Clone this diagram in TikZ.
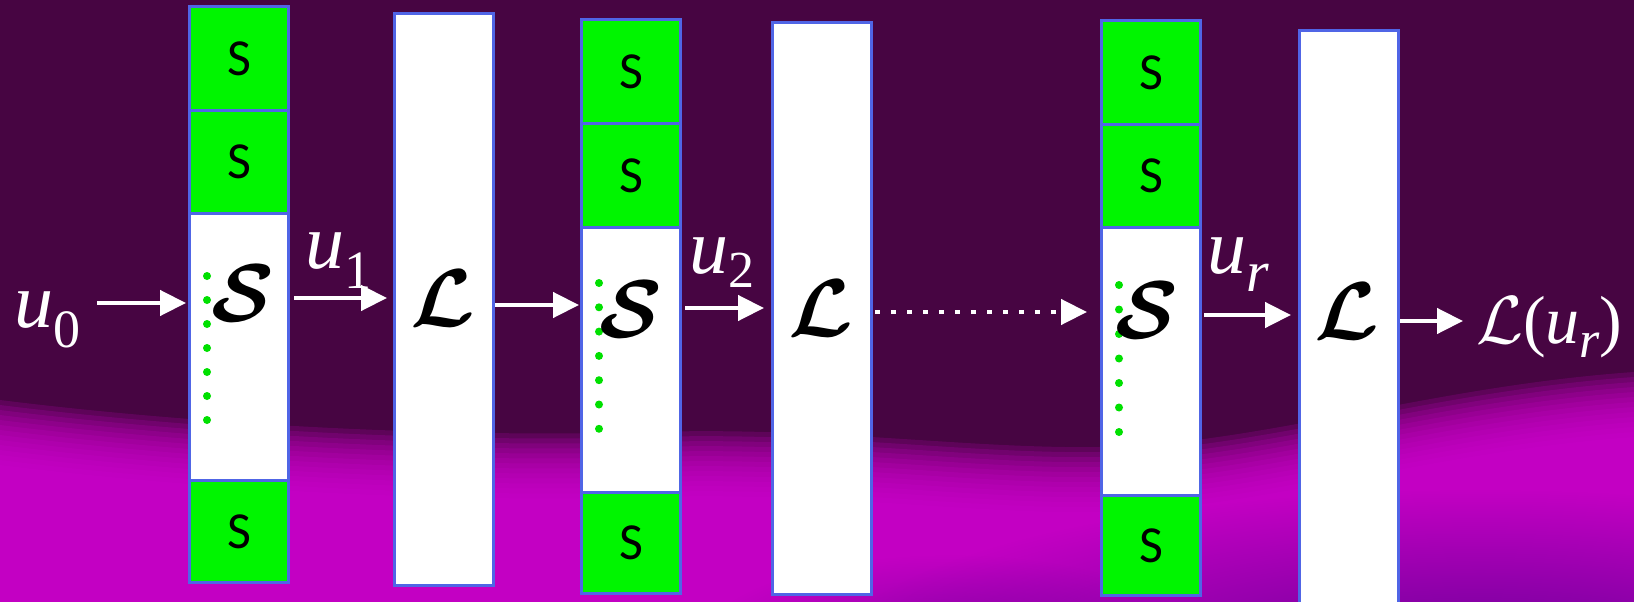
\documentclass[tikz,border=0pt]{standalone}
\usepackage{amsmath}
\usepackage{fontspec}
\DeclareFontShape{OMS}{cmsy}{m}{n}{<->cmsy10}{}
\DeclareFontShape{OMS}{cmsy}{b}{n}{<->cmbsy10}{}
\newfontfamily\lblfont{Liberation Serif}
\newfontfamily\boxfont{Carlito}
\usetikzlibrary{arrows.meta,fadings}
\tikzfading[name=softblob, inner color=transparent!0, outer color=transparent!100]
\definecolor{bgdark}{HTML}{470542}
\definecolor{bgmag}{HTML}{D000D0}
\definecolor{bgdeep}{HTML}{6A0098}
\definecolor{bord}{HTML}{5065E6}
\definecolor{sgreen}{HTML}{00F500}
\definecolor{dotgreen}{HTML}{00E000}
\begin{document}
\begin{tikzpicture}[x=1pt,y=-1pt,
  box/.style={draw=bord, line width=3pt, anchor=north west, inner sep=0pt, minimum width=99pt},
  gbox/.style={box, fill=sgreen, font=\boxfont\fontsize{52}{52}\selectfont},
  wbox/.style={box, fill=white},
  scr/.style={inner sep=0pt, font=\fontsize{82}{82}\selectfont},
  lbl/.style={text=white, inner sep=0pt, anchor=base west, font=\lblfont\fontsize{78}{78}\selectfont},
  arr/.style={draw=white, line width=4.5pt, -{Triangle[length=26pt,width=25pt]}},
  dotarr/.style={arr, dash pattern=on 5pt off 11pt}
]
\useasboundingbox (0,0) rectangle (1634,602);
% background
\fill[bgdark] (0,0) rectangle (1634,602);
\begin{scope}
\clip (0,0) rectangle (1634,602);
\foreach \k in {0,...,13}{
  \fill[bgmag, opacity=0.17, yshift={-5*\k}]
    (0,400) .. controls (200,425) and (450,438) .. (650,432)
    .. controls (850,426) and (1000,455) .. (1150,445)
    .. controls (1300,432) and (1450,385) .. (1634,372)
    -- (1634,700) -- (0,700) -- cycle;
}
\fill[bgdeep, path fading=softblob] (1480,660) ellipse [x radius=650, y radius=170];
\fill[bgdeep, path fading=softblob, opacity=0.6] (950,645) ellipse [x radius=250, y radius=90];
\end{scope}

% column 1
\node[gbox, minimum height=104] (g1a) at (188,5) {S};
\node[gbox, minimum height=103] (g1b) at (188,109) {S};
\node[wbox, minimum height=267] (w1) at (188,212) {};
\node[gbox, minimum height=102] (g1c) at (188,479) {S};
\node[wbox, minimum height=572] (L1) at (393,12) {};
% column 2
\node[gbox, minimum height=104] (g2a) at (580,18) {S};
\node[gbox, minimum height=104] (g2b) at (580,122) {S};
\node[wbox, minimum height=265] (w2) at (580,226) {};
\node[gbox, minimum height=101] (g2c) at (580,491) {S};
\node[wbox, minimum height=572] (L2) at (771,21) {};
% column 3
\node[gbox, minimum height=104] (g3a) at (1100,19) {S};
\node[gbox, minimum height=103] (g3b) at (1100,123) {S};
\node[wbox, minimum height=268] (w3) at (1100,226) {};
\node[gbox, minimum height=100] (g3c) at (1100,494) {S};
\node[wbox, minimum height=590] (L3) at (1298,29) {};

% green dots
\foreach \i in {0,...,6}{
  \fill[dotgreen] (207,276+24*\i) circle (4);
  \fill[dotgreen] (599,283+24.3*\i) circle (4);
  \fill[dotgreen] (1119,285+24.5*\i) circle (4);
}

% script letters
\node[scr] (s1) at (243,293) {$\boldsymbol{\mathcal{S}}$};
\node[scr] (s2) at (631,309) {$\boldsymbol{\mathcal{S}}$};
\node[scr] (s3) at (1147,310) {$\boldsymbol{\mathcal{S}}$};
\node[scr] (l1) at (443,298) {$\boldsymbol{\mathcal{L}}$};
\node[scr] (l2) at (821,308) {$\boldsymbol{\mathcal{L}}$};
\node[scr] (l3) at (1347,311) {$\boldsymbol{\mathcal{L}}$};

% labels
\node[lbl] (u0) at (14,327) {\itshape u\raisebox{-20pt}{\fontsize{54}{54}\selectfont\upshape 0}};
\node[lbl] (u1) at (305,268) {\itshape u\raisebox{-20pt}{\fontsize{54}{54}\selectfont\upshape 1}};
\node[lbl] (u2) at (689,273) {\itshape u\raisebox{-14pt}{\fontsize{52}{52}\selectfont\upshape 2}};
\node[lbl] (ur) at (1207,273) {\itshape u\raisebox{-18pt}{\fontsize{58}{58}\selectfont r}};
\node[lbl, font=\lblfont\fontsize{68}{68}\selectfont] (out) at (1476,343)
  {$\mathcal{L}$(\itshape u\raisebox{-14pt}{\fontsize{52}{52}\selectfont r}\upshape)};

% row coordinates
\coordinate (a0) at (97,303);
\coordinate (r1) at (0,298);
\coordinate (r2) at (0,305);
\coordinate (r3) at (0,308);
\coordinate (r4) at (0,312);
\coordinate (r5) at (0,315);
\coordinate (r6) at (0,321);
\coordinate (oend) at (1463,321);

% connectors
\draw[arr, shorten >=2pt] (a0) -- (w1.west |- a0);
\draw[arr, shorten <=4pt, shorten >=6pt] (w1.east |- r1) -- (L1.west |- r1);
\draw[arr, shorten >=1pt] (L1.east |- r2) -- (w2.west |- r2);
\draw[arr, shorten <=3pt, shorten >=7pt] (w2.east |- r3) -- (L2.west |- r3);
\draw[dotarr, shorten <=2pt, shorten >=13pt] (L2.east |- r4) -- (w3.west |- r4);
\draw[arr, shorten <=2pt, shorten >=7pt] (w3.east |- r5) -- (L3.west |- r5);
\draw[arr] (L3.east |- r6) -- (oend);
\end{tikzpicture}
\end{document}
